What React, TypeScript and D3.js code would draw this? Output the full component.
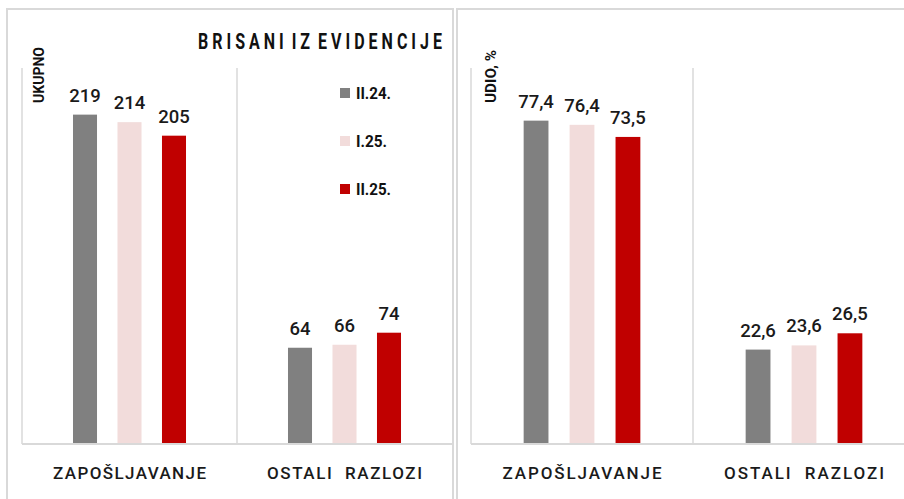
import React from 'react';
import * as d3 from 'd3';

const categories = ['ZAPOŠLJAVANJE', 'OSTALI  RAZLOZI'];
const series = ['II.24.', 'I.25.', 'II.25.'];
const colors = ['#808080', '#f2dcdb', '#c00000'];

// UKUPNO
const totalII24 = [219, 64];
const totalI25 = [214, 66];
const totalII25 = [205, 74];

// UDIO, %
const shareII24 = [77.4, 22.6];
const shareI25 = [76.4, 23.6];
const shareII25 = [73.5, 26.5];

const font = 'Roboto, "Liberation Sans", sans-serif';
const grid = '#d9d9d9';

const top = 68;
const base = 444;

function Panel({ x0, x1, yMax, values, fmt, yLabel, labelX, labelLen, catLens }) {
  const x = d3.scaleBand().domain(categories).range([x0, x1]);
  const inner = d3
    .scaleBand()
    .domain(series)
    .range([0, x.bandwidth()])
    .paddingInner(0.46)
    .paddingOuter(1.146);
  const y = d3.scaleLinear().domain([0, yMax]).range([base, top]);

  return (
    <g>
      <line x1={x0} x2={x0} y1={top} y2={base} stroke={grid} strokeWidth={1.5} />
      <line x1={x1 - x.bandwidth()} x2={x1 - x.bandwidth()} y1={top} y2={base} stroke={grid} strokeWidth={1.5} />
      {series.map((s, si) =>
        categories.map((c, ci) => {
          const v = values[si][ci];
          const bx = x(c) + inner(s);
          return (
            <g key={s + c}>
              <rect x={bx} y={y(v)} width={inner.bandwidth()} height={base - y(v)} fill={colors[si]} />
              <text
                x={bx + inner.bandwidth() / 2}
                y={y(v) - 13}
                textAnchor="middle"
                fontFamily={font}
                fontWeight={500}
                fontSize={18.5}
                fill="#1a1a1a"
              >
                {fmt(v)}
              </text>
            </g>
          );
        }),
      )}
      <line x1={x0} x2={x1} y1={base} y2={base} stroke={grid} strokeWidth={2} />
      {categories.map((c, ci) => (
        <text
          key={c}
          x={x(c) + x.bandwidth() / 2 - catLens[ci] / 2}
          y={479}
          fontFamily={font}
          fontWeight={500}
          fontSize={17}
          textLength={catLens[ci]}
          lengthAdjust="spacing"
          fill="#1a1a1a"
          style={{ whiteSpace: 'pre' }}
        >
          {c}
        </text>
      ))}
      <text
        transform={`translate(${labelX},103) rotate(-90)`}
        fontFamily={font}
        fontWeight="bold"
        fontSize={15}
        textLength={labelLen}
        lengthAdjust="spacingAndGlyphs"
        fill="#111"
      >
        {yLabel}
      </text>
    </g>
  );
}

export default function App() {
  const fmtInt = d3.format('d');
  const fmtDec = (v) => d3.format('.1f')(v).replace('.', ',');
  const legendY = d3.scalePoint().domain(series).range([93, 189]);
  const legendLens = [35, 31, 35];

  return (
    <svg
      width={904}
      height={499}
      style={{ position: 'absolute', left: 0, top: 0, background: '#fff' }}
    >
      <rect x={7} y={9} width={446} height={500} fill="#fff" stroke={grid} strokeWidth={2} />
      <rect x={457} y={9} width={460} height={500} fill="#fff" stroke={grid} strokeWidth={2} />

      <Panel
        x0={22}
        x1={452}
        yMax={250}
        values={[totalII24, totalI25, totalII25]}
        fmt={fmtInt}
        yLabel="UKUPNO"
        labelX={44}
        labelLen={56}
        catLens={[153, 155]}
      />
      <Panel
        x0={471}
        x1={915}
        yMax={90}
        values={[shareII24, shareI25, shareII25]}
        fmt={fmtDec}
        yLabel="UDIO, %"
        labelX={496}
        labelLen={53}
        catLens={[159, 160]}
      />

      <text
        x={198}
        y={49}
        fontFamily={font}
        fontWeight="bold"
        fontSize={21.5}
        textLength={244}
        lengthAdjust="spacingAndGlyphs"
        fill="#111"
        style={{ whiteSpace: 'pre' }}
      >
        {'B R I S A N I  I Z  E V I D E N C I J E'}
      </text>

      {series.map((s, i) => (
        <g key={s}>
          <rect x={340} y={legendY(s) - 5} width={10} height={10} fill={colors[i]} />
          <text
            x={356}
            y={legendY(s) + 6}
            fontFamily={font}
            fontWeight="bold"
            fontSize={16}
            textLength={legendLens[i]}
            lengthAdjust="spacingAndGlyphs"
            fill="#111"
          >
            {s}
          </text>
        </g>
      ))}
    </svg>
  );
}
